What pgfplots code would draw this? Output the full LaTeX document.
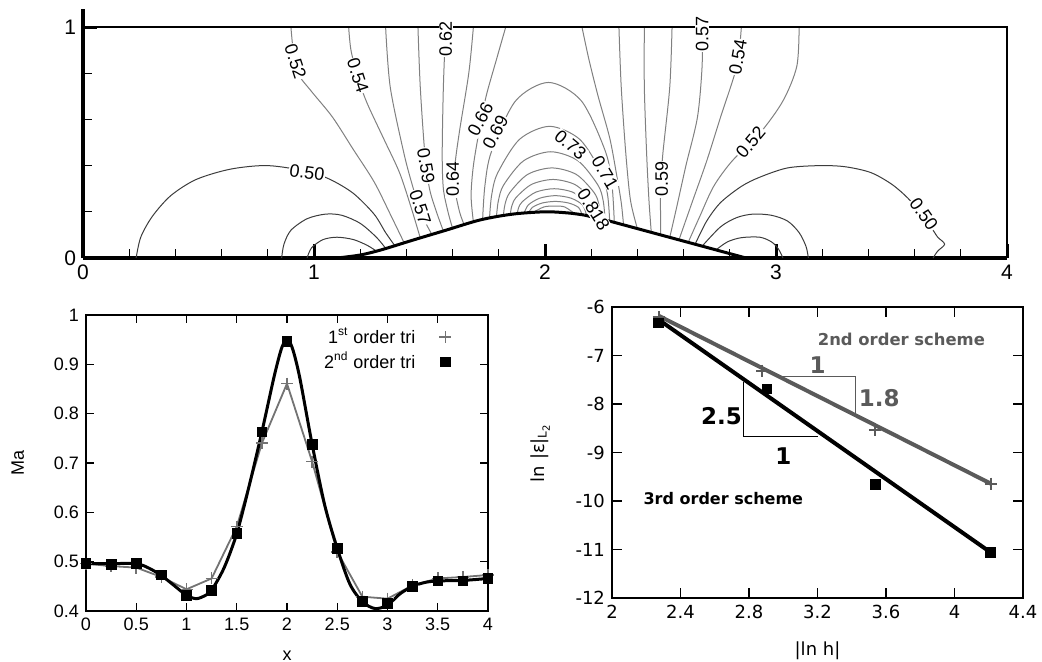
\documentclass[border=0pt]{standalone}
\usepackage{fontspec}
\setmainfont{Liberation Sans}
\newfontfamily\dejavu{DejaVu Sans}
\usepackage{pgfplots}
\pgfplotsset{compat=1.18}
\definecolor{cgray}{HTML}{808080}
\definecolor{cdark}{HTML}{3C3C3C}
\definecolor{sgray}{HTML}{5A5A5A}

\begin{document}
\begin{tikzpicture}
\useasboundingbox (0,0) rectangle (521pt,330.5pt);
\tikzset{lbl/.style={fill=white,inner sep=0.4pt,font=\fontsize{9}{9}\selectfont}}

% ---------------- contour plot ----------------
\begin{axis}[at={(41.5pt,201.5pt)},anchor=south west,scale only axis,
  width=462pt,height=124.74pt,xmin=0,xmax=4,ymin=0,ymax=1.08,clip=false,
  axis x line*=bottom,axis y line*=left,axis line style={line width=2pt,-},
  xtick={0,1,2,3,4},ytick={0,1},
  minor xtick={0.2,0.4,0.6,0.8,1.2,1.4,1.6,1.8,2.2,2.4,2.6,2.8,3.2,3.4,3.6,3.8},
  minor ytick={0.2,0.4,0.6,0.8},
  tick align=inside,major tick length=7pt,minor tick length=4.5pt,
  major tick style={line width=1.5pt,black},minor tick style={line width=0.5pt,black},
  tick label style={font=\fontsize{10.5}{12}\selectfont},
  /pgf/number format/assume math mode=true]
% feet loops, left
\addplot[cdark,line width=0.5pt,smooth] coordinates {(0.97,0)(0.99,0.045)(1.04,0.08)(1.10,0.09)(1.17,0.08)(1.23,0.055)(1.27,0.03)};
\addplot[cdark,line width=0.5pt,smooth] coordinates {(0.86,0)(0.87,0.06)(0.90,0.12)(0.97,0.17)(1.05,0.19)(1.12,0.185)(1.20,0.15)(1.27,0.09)(1.31,0.042)};
\addplot[cdark,line width=0.5pt,smooth] coordinates {(0.23,0)(0.25,0.09)(0.30,0.18)(0.38,0.27)(0.49,0.34)(0.64,0.385)(0.80,0.40)(0.97,0.375)(1.07,0.34)(1.17,0.28)(1.26,0.19)(1.31,0.11)(1.35,0.053)};
% left fan
\addplot[cgray,line width=0.5pt,smooth] coordinates {(0.90,1)(0.91,0.90)(0.93,0.80)(0.99,0.72)(1.08,0.61)(1.17,0.47)(1.26,0.33)(1.33,0.19)(1.39,0.066)};
\addplot[cgray,line width=0.5pt,smooth] coordinates {(1.15,1)(1.16,0.90)(1.19,0.78)(1.23,0.67)(1.30,0.52)(1.37,0.37)(1.42,0.22)(1.46,0.087)};
\addplot[cgray,line width=0.5pt,smooth] coordinates {(1.31,1)(1.33,0.74)(1.39,0.45)(1.43,0.30)(1.46,0.20)(1.51,0.102)};
\addplot[cgray,line width=0.5pt,smooth] coordinates {(1.45,1)(1.46,0.74)(1.48,0.45)(1.50,0.30)(1.53,0.20)(1.56,0.117)};
\addplot[cgray,line width=0.5pt,smooth] coordinates {(1.57,1)(1.56,0.74)(1.555,0.45)(1.56,0.30)(1.58,0.20)(1.60,0.128)};
\addplot[cgray,line width=0.5pt,smooth] coordinates {(1.69,1)(1.67,0.80)(1.63,0.55)(1.61,0.40)(1.61,0.30)(1.63,0.20)(1.65,0.144)};
\addplot[cgray,line width=0.5pt,smooth] coordinates {(1.83,1)(1.79,0.86)(1.745,0.70)(1.715,0.55)(1.69,0.40)(1.68,0.27)(1.69,0.156)};
% arcs over the bump
\addplot[cgray,line width=0.5pt,smooth] coordinates {(1.73,0.168)(1.74,0.315)(1.768,0.46)(1.8725,0.68)(2.015,0.76)(2.1575,0.68)(2.262,0.46)(2.29,0.315)(2.30,0.154)};
\addplot[cgray,line width=0.5pt,smooth] coordinates {(1.76,0.175)(1.769,0.272)(1.795,0.368)(1.89,0.514)(2.02,0.57)(2.15,0.514)(2.245,0.368)(2.271,0.272)(2.28,0.16)};
\addplot[cgray,line width=0.5pt,smooth] coordinates {(1.79,0.18)(1.798,0.247)(1.821,0.316)(1.9075,0.421)(2.025,0.46)(2.1425,0.421)(2.229,0.316)(2.252,0.247)(2.26,0.165)};
\addplot[cgray,line width=0.5pt,smooth] coordinates {(1.82,0.185)(1.827,0.233)(1.848,0.284)(1.925,0.362)(2.03,0.39)(2.135,0.362)(2.212,0.284)(2.233,0.233)(2.24,0.17)};
\addplot[cgray,line width=0.5pt,smooth] coordinates {(1.85,0.19)(1.856,0.224)(1.875,0.262)(1.9425,0.319)(2.035,0.34)(2.1275,0.319)(2.195,0.262)(2.214,0.224)(2.22,0.175)};
\addplot[cgray,line width=0.5pt,smooth] coordinates {(1.88,0.192)(1.885,0.216)(1.901,0.243)(1.96,0.285)(2.04,0.30)(2.12,0.285)(2.179,0.243)(2.195,0.216)(2.20,0.18)};
\addplot[cgray,line width=0.5pt,smooth] coordinates {(1.91,0.195)(1.928,0.23)(1.9775,0.259)(2.045,0.27)(2.1125,0.259)(2.162,0.23)(2.18,0.185)};
\addplot[cgray,line width=0.5pt,smooth] coordinates {(1.93,0.197)(1.945,0.219)(1.9875,0.238)(2.045,0.245)(2.1025,0.238)(2.145,0.219)(2.16,0.188)};
\addplot[cgray,line width=0.5pt,smooth] coordinates {(1.95,0.198)(1.995,0.221)(2.04,0.225)(2.085,0.221)(2.13,0.191)};
% right fan
\addplot[cgray,line width=0.5pt,smooth] coordinates {(2.16,1)(2.19,0.86)(2.23,0.70)(2.28,0.52)(2.31,0.36)(2.33,0.24)(2.34,0.143)};
\addplot[cgray,line width=0.5pt,smooth] coordinates {(2.32,1)(2.33,0.74)(2.35,0.45)(2.37,0.25)(2.40,0.127)};
\addplot[cgray,line width=0.5pt,smooth] coordinates {(2.43,1)(2.43,0.74)(2.44,0.45)(2.45,0.25)(2.46,0.111)};
\addplot[cgray,line width=0.5pt,smooth] coordinates {(2.55,1)(2.54,0.74)(2.51,0.45)(2.50,0.30)(2.50,0.20)(2.50,0.10)};
\addplot[cgray,line width=0.5pt,smooth] coordinates {(2.68,1)(2.68,0.83)(2.66,0.61)(2.61,0.40)(2.57,0.22)(2.54,0.089)};
\addplot[cgray,line width=0.5pt,smooth] coordinates {(2.85,1)(2.83,0.83)(2.76,0.61)(2.70,0.42)(2.64,0.25)(2.58,0.079)};
\addplot[cgray,line width=0.5pt,smooth] coordinates {(3.10,1)(3.09,0.83)(3.03,0.68)(2.93,0.54)(2.81,0.42)(2.73,0.31)(2.67,0.18)(2.62,0.068)};
% feet loops, right
\addplot[cdark,line width=0.5pt,smooth] coordinates {(2.65,0.06)(2.70,0.16)(2.76,0.24)(2.85,0.31)(2.93,0.35)(3.05,0.39)(3.19,0.40)(3.30,0.395)(3.41,0.37)(3.50,0.32)(3.57,0.26)(3.63,0.19)(3.68,0.12)(3.70,0.09)(3.73,0.06)(3.70,0.03)(3.68,0)};
\addplot[cdark,line width=0.5pt,smooth] coordinates {(2.68,0.051)(2.76,0.135)(2.83,0.175)(2.90,0.19)(2.98,0.185)(3.05,0.16)(3.10,0.11)(3.13,0.05)(3.14,0)};
\addplot[cdark,line width=0.5pt,smooth] coordinates {(2.74,0.035)(2.79,0.07)(2.85,0.088)(2.93,0.09)(2.98,0.07)(3.01,0.04)(3.03,0)};
% domain boundary and bump
\addplot[black,line width=1pt] coordinates {(0,1)(4,1)(4,0)};
\addplot[black,line width=1.5pt,smooth] coordinates {(1.1,0)(1.2,0.013)(1.29,0.035)(1.43,0.078)(1.57,0.12)(1.72,0.165)(1.86,0.19)(2.0,0.2)(2.1,0.195)(2.17,0.186)};
\addplot[black,line width=1.5pt] coordinates {(2.17,0.186)(2.29,0.157)(2.87,0)};
% level labels
\node[lbl,rotate=-72] at (axis cs:0.92,0.85) {0.52};
\node[lbl,rotate=-72] at (axis cs:1.19,0.79) {0.54};
\node[lbl,rotate=90] at (axis cs:1.57,0.95) {0.62};
\node[lbl,rotate=62] at (axis cs:1.72,0.60) {0.66};
\node[lbl,rotate=62] at (axis cs:1.785,0.545) {0.69};
\node[lbl,rotate=-80] at (axis cs:1.485,0.40) {0.59};
\node[lbl,rotate=-72] at (axis cs:1.46,0.22) {0.57};
\node[lbl,rotate=90] at (axis cs:1.60,0.34) {0.64};
\node[lbl,rotate=-8] at (axis cs:0.97,0.37) {0.50};
\node[lbl,rotate=-40] at (axis cs:2.11,0.49) {0.73};
\node[lbl,rotate=-60] at (axis cs:2.26,0.37) {0.71};
\node[lbl,rotate=-58] at (axis cs:2.21,0.21) {0.818};
\node[lbl,rotate=90] at (axis cs:2.505,0.34) {0.59};
\node[lbl,rotate=90] at (axis cs:2.68,0.97) {0.57};
\node[lbl,rotate=80] at (axis cs:2.835,0.87) {0.54};
\node[lbl,rotate=50] at (axis cs:2.89,0.50) {0.52};
\node[lbl,rotate=-55] at (axis cs:3.64,0.19) {0.50};
\end{axis}

% ---------------- Mach number along the wall ----------------
\begin{axis}[at={(43pt,25pt)},anchor=south west,scale only axis,
  width=201pt,height=148pt,xmin=0,xmax=4,ymin=0.4,ymax=1,
  xtick={0,0.5,1,1.5,2,2.5,3,3.5,4},ytick={0.4,0.5,0.6,0.7,0.8,0.9,1},
  tick align=inside,major tick length=4pt,axis line style={line width=0.6pt},
  tick style={line width=0.6pt,black},
  tick label style={font=\fontsize{9}{10}\selectfont},
  /pgf/number format/assume math mode=true,
  xlabel={x},ylabel={Ma},label style={font=\fontsize{9}{10}\selectfont},
  xlabel style={at={(axis description cs:0.5,-0.15)},anchor=center},
  ylabel style={at={(axis description cs:-0.17,0.5)},anchor=center},
  legend style={draw=none,fill=none,at={(axis description cs:0.925,0.985)},anchor=north east,
    font=\fontsize{9}{10}\selectfont,row sep=-1pt,
    /tikz/every odd column/.append style={column sep=10pt}},
  legend plot pos=right,legend cell align=right]
\addplot[sgray!85,line width=0.9pt,forget plot] coordinates {(0,0.496)(0.25,0.491)(0.5,0.488)(0.75,0.469)(1,0.444)(1.25,0.466)(1.5,0.571)(1.75,0.740)(2,0.861)(2.25,0.703)(2.5,0.520)(2.75,0.429)(3,0.425)(3.25,0.452)(3.5,0.466)(3.75,0.469)(4,0.473)};
\addplot[black,line width=1.5pt,smooth,forget plot] coordinates {(0,0.496)(0.25,0.496)(0.5,0.496)(0.625,0.487)(0.75,0.472)(0.875,0.452)(1,0.432)(1.1,0.425)(1.2,0.433)(1.25,0.442)(1.375,0.488)(1.5,0.557)(1.625,0.655)(1.75,0.763)(1.875,0.878)(1.95,0.935)(2,0.948)(2.05,0.935)(2.125,0.875)(2.25,0.738)(2.375,0.615)(2.5,0.527)(2.625,0.455)(2.75,0.419)(2.875,0.405)(3,0.412)(3.125,0.435)(3.25,0.450)(3.375,0.458)(3.5,0.461)(3.75,0.462)(4,0.466)};
\addplot[only marks,mark=+,mark size=3pt,sgray!85,line width=0.8pt] coordinates {(0,0.496)(0.25,0.491)(0.5,0.488)(0.75,0.469)(1,0.444)(1.25,0.466)(1.5,0.571)(1.75,0.740)(2,0.861)(2.25,0.703)(2.5,0.520)(2.75,0.429)(3,0.425)(3.25,0.452)(3.5,0.466)(3.75,0.469)(4,0.473)};
\addlegendentry{1\textsuperscript{st} order tri}
\addplot[only marks,mark=square*,mark size=2.4pt,black] coordinates {(0,0.496)(0.25,0.495)(0.5,0.496)(0.75,0.473)(1,0.432)(1.25,0.442)(1.5,0.557)(1.75,0.763)(2,0.946)(2.25,0.738)(2.5,0.527)(2.75,0.419)(3,0.415)(3.25,0.450)(3.5,0.461)(3.75,0.461)(4,0.466)};
\addlegendentry{2\textsuperscript{nd} order tri}
\end{axis}

% ---------------- convergence ----------------
\begin{axis}[at={(306pt,31.5pt)},anchor=south west,scale only axis,
  width=205.5pt,height=145.5pt,xmin=2,xmax=4.4,ymin=-12,ymax=-6,
  xtick={2,2.4,2.8,3.2,3.6,4,4.4},xticklabels={2,2.4,2.8,3.2,3.6,4,4.4},
  ytick={-12,-11,-10,-9,-8,-7,-6},yticklabels={-12,-11,-10,-9,-8,-7,-6},
  tick align=inside,major tick length=5pt,axis line style={line width=0.6pt},
  tick style={line width=0.6pt,black},
  tick label style={font=\dejavu\fontsize{9}{10}\selectfont},
  xlabel={|ln h|},ylabel={ln |ε|\textsubscript{L\textsubscript{2}}},
  label style={font=\dejavu\fontsize{9}{10}\selectfont},
  xlabel style={at={(axis description cs:0.5,-0.18)},anchor=center},
  ylabel style={at={(axis description cs:-0.175,0.5)},anchor=center}]
\addplot[sgray,line width=2pt] coordinates {(2.272,-6.18)(4.211,-9.64)};
\addplot[black,line width=2pt] coordinates {(2.272,-6.26)(4.211,-11.06)};
\addplot[only marks,mark=+,mark size=3pt,sgray,line width=1pt] coordinates {(2.272,-6.21)(2.878,-7.31)(3.535,-8.53)(4.211,-9.64)};
\addplot[only marks,mark=square*,mark size=2.4pt,black] coordinates {(2.272,-6.33)(2.904,-7.69)(3.539,-9.66)(4.211,-11.06)};
\addplot[sgray,line width=0.6pt] coordinates {(2.972,-7.43)(3.424,-7.43)(3.424,-8.25)};
\addplot[black,line width=0.6pt] coordinates {(2.768,-7.55)(2.768,-8.67)(3.205,-8.67)};
\node[text=sgray,font=\dejavu\bfseries\fontsize{11.5}{12}\selectfont] at (axis cs:3.20,-7.19) {1};
\node[text=sgray,font=\dejavu\bfseries\fontsize{11.5}{12}\selectfont] at (axis cs:3.56,-7.88) {1.8};
\node[font=\dejavu\bfseries\fontsize{11.5}{12}\selectfont] at (axis cs:2.64,-8.25) {2.5};
\node[font=\dejavu\bfseries\fontsize{11.5}{12}\selectfont] at (axis cs:3.0,-9.08) {1};
\node[text=sgray,font=\dejavu\bfseries\fontsize{8.2}{9}\selectfont] at (axis cs:3.69,-6.66) {2nd order scheme};
\node[font=\dejavu\bfseries\fontsize{8}{9}\selectfont] at (axis cs:2.65,-9.94) {3rd order scheme};
\end{axis}
\end{tikzpicture}
\end{document}
